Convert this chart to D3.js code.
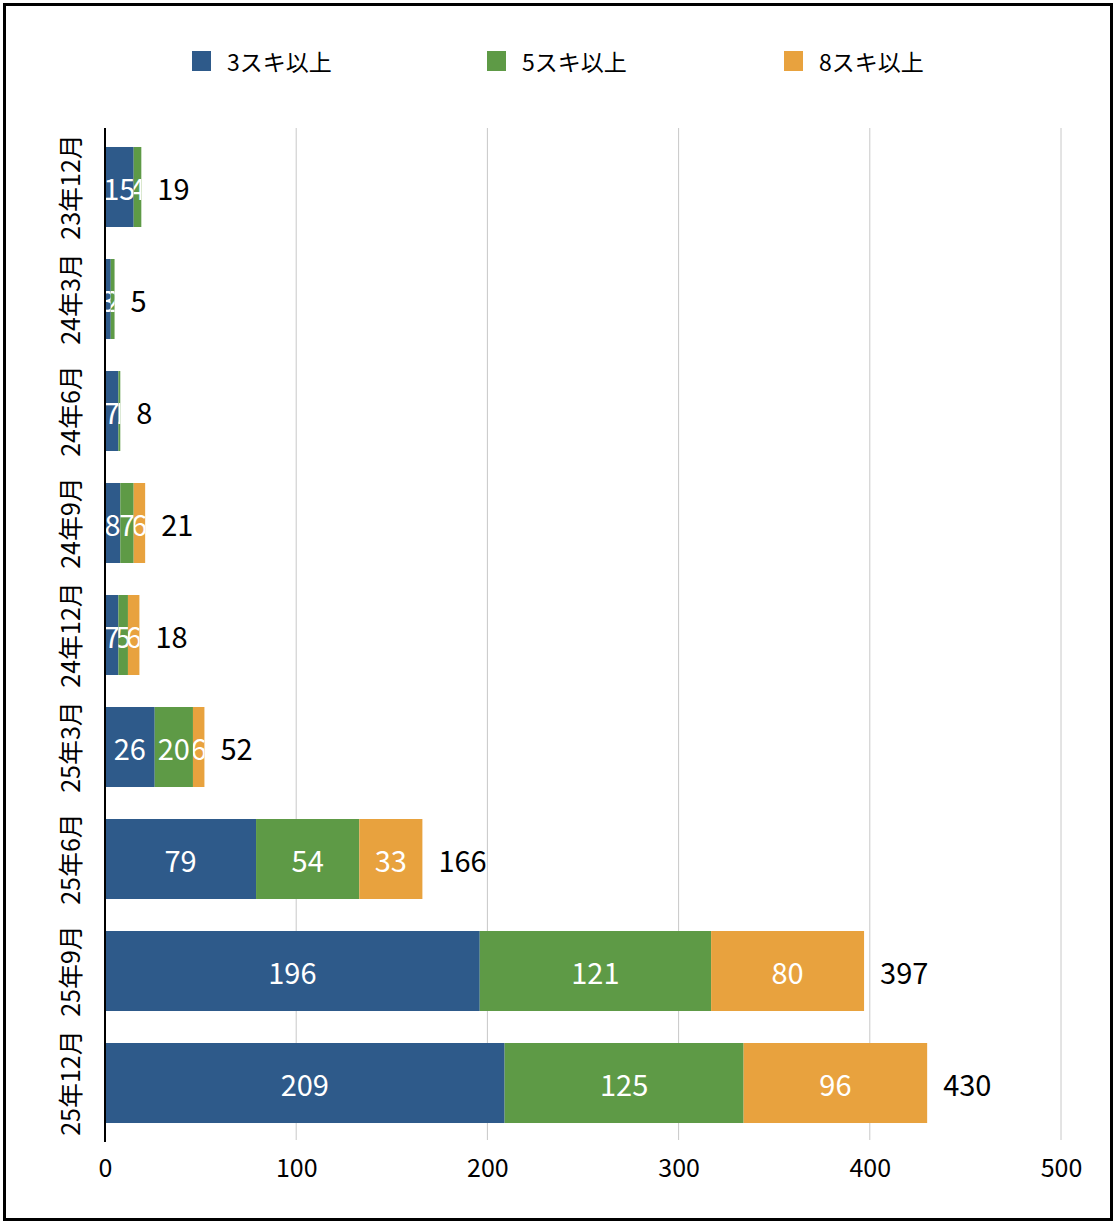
<!DOCTYPE html>
<html>
<head>
<meta charset="utf-8">
<script src="https://cdn.jsdelivr.net/npm/d3@7"></script>
<style>
  body { margin: 0; background: #fff; }
  text { font-family: "Noto Sans CJK JP", "Noto Sans", sans-serif; }
</style>
</head>
<body>
<div id="chart"></div>
<script>
const categories = ["23年12月", "24年3月", "24年6月", "24年9月", "24年12月", "25年3月", "25年6月", "25年9月", "25年12月"]
const seriesNames = ["3スキ以上", "5スキ以上", "8スキ以上"]
const ski3 = [15, 3, 7, 8, 7, 26, 79, 196, 209]
const ski5 = [4, 2, 1, 7, 5, 20, 54, 121, 125]
const ski8 = [0, 0, 0, 6, 6, 6, 33, 80, 96]
const totals = [19, 5, 8, 21, 18, 52, 166, 397, 430]
const xTicks = [0, 100, 200, 300, 400, 500]
const colors = ["#2e5a8a", "#5e9a46", "#e8a23e"]

const W = 1116, H = 1226
const margin = { top: 128, right: 55, bottom: 84, left: 105 }
const width = W - margin.left - margin.right
const height = 1140 - margin.top

const rows = categories.map((c, i) => ({ cat: c, ski3: ski3[i], ski5: ski5[i], ski8: ski8[i], total: totals[i] }))
const stack = d3.stack().keys(["ski3", "ski5", "ski8"])(rows)

const svg = d3.select("#chart").append("svg")
    .attr("width", W)
    .attr("height", H)

// outer frame
svg.append("rect")
    .attr("x", 4.5).attr("y", 4.5)
    .attr("width", W - 9).attr("height", H - 11)
    .attr("fill", "none")
    .attr("stroke", "#000")
    .attr("stroke-width", 3)

// legend
const legendX = [192, 487, 784]
const legend = svg.append("g")
seriesNames.forEach((name, i) => {
    legend.append("rect")
        .attr("x", legendX[i]).attr("y", 51)
        .attr("width", 19).attr("height", 20)
        .attr("fill", colors[i])
    legend.append("text")
        .attr("x", legendX[i] + 35).attr("y", 61)
        .attr("dominant-baseline", "central")
        .attr("font-size", 23)
        .text(name)
})

const g = svg.append("g").attr("transform", `translate(${margin.left},${margin.top})`)
const defs = svg.append("defs")

const x = d3.scaleLinear().domain([0, 500]).range([0, width])
const y = d3.scaleBand()
    .domain(categories)
    .range([3, height - 1])
    .paddingInner(0.2857)
    .paddingOuter(0.1428)

// grid
g.append("g")
    .selectAll("line")
    .data(xTicks.slice(1))
    .join("line")
    .attr("x1", d => x(d)).attr("x2", d => x(d))
    .attr("y1", 0).attr("y2", height)
    .attr("stroke", "#c8c8c8")
    .attr("stroke-width", 1)

// x axis labels
const xAxis = g.append("g")
    .attr("transform", `translate(0,${height})`)
    .call(d3.axisBottom(x).tickValues(xTicks).tickSize(0).tickPadding(19))
xAxis.select(".domain").remove()
xAxis.selectAll("text")
    .attr("font-size", 25)
    .attr("fill", "#000")
    .style("font-family", "'Noto Sans CJK JP', 'Noto Sans', sans-serif")

// bars; each value label is clipped to its own segment
stack.forEach((layer, i) => {
    const lg = g.append("g")
    lg.selectAll("rect")
        .data(layer)
        .join("rect")
        .attr("x", d => x(d[0]))
        .attr("y", d => y(d.data.cat))
        .attr("width", d => x(d[1]) - x(d[0]))
        .attr("height", y.bandwidth())
        .attr("fill", colors[i])

    const segs = layer.map((d, j) => ({ d, id: `clip-${i}-${j}` })).filter(s => s.d[1] - s.d[0] > 0)
    segs.forEach(s => {
        defs.append("clipPath").attr("id", s.id)
            .append("rect")
            .attr("x", x(s.d[0]))
            .attr("y", y(s.d.data.cat))
            .attr("width", x(s.d[1]) - x(s.d[0]))
            .attr("height", y.bandwidth())
    })
    lg.selectAll("text")
        .data(segs)
        .join("text")
        .attr("clip-path", s => `url(#${s.id})`)
        .attr("x", s => (x(s.d[0]) + x(s.d[1])) / 2)
        .attr("y", s => y(s.d.data.cat) + y.bandwidth() / 2)
        .attr("text-anchor", "middle")
        .attr("dominant-baseline", "central")
        .attr("font-size", 29)
        .attr("fill", "#fff")
        .text(s => s.d[1] - s.d[0])
})

// totals
g.append("g")
    .selectAll("text")
    .data(rows)
    .join("text")
    .attr("x", d => x(d.total) + 16)
    .attr("y", d => y(d.cat) + y.bandwidth() / 2)
    .attr("dominant-baseline", "central")
    .attr("font-size", 29)
    .attr("fill", "#000")
    .text(d => d.total)

// y axis line + rotated labels
g.append("line")
    .attr("x1", 0).attr("x2", 0)
    .attr("y1", 0).attr("y2", height + 2)
    .attr("stroke", "#000")
    .attr("stroke-width", 2)

g.append("g")
    .selectAll("text")
    .data(categories)
    .join("text")
    .attr("transform", d => `translate(-36,${y(d) + y.bandwidth() / 2}) rotate(-90)`)
    .attr("text-anchor", "middle")
    .attr("dominant-baseline", "central")
    .attr("font-size", 25)
    .attr("fill", "#000")
    .text(d => d)
</script>
</body>
</html>
